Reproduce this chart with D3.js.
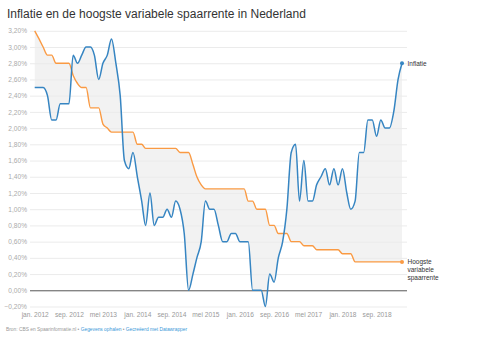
<!DOCTYPE html>
<html><head><meta charset="utf-8">
<script src="https://cdn.jsdelivr.net/npm/d3@7/dist/d3.min.js"></script>
<style>
html,body{margin:0;padding:0;background:#fff;}
svg text{font-family:"Liberation Sans",Arial,Helvetica,sans-serif;}
</style></head>
<body><svg id="c" width="481" height="338"></svg>
<script>
const title = "Inflatie en de hoogste variabele spaarrente in Nederland";
const firstMonth = "2012-01";
const inflatie = [
 2.5,2.5,2.5,2.4,2.1,2.1,2.3,2.3,2.3,2.9,2.8,2.9,
 3.0,3.0,2.9,2.6,2.8,2.9,3.1,2.8,2.4,1.6,1.5,1.7,
 1.4,1.1,0.8,1.2,0.8,0.9,0.9,1.0,0.9,1.1,1.0,0.7,
 0.0,0.2,0.4,0.6,1.1,1.0,1.0,0.8,0.6,0.6,0.7,0.7,
 0.6,0.6,0.6,0.0,0.0,0.0,-0.2,0.2,0.1,0.4,0.6,1.0,
 1.7,1.8,1.1,1.6,1.1,1.1,1.3,1.4,1.5,1.3,1.5,1.3,
 1.5,1.2,1.0,1.1,1.7,1.7,2.1,2.1,1.9,2.1,2.0,2.0,
 2.2,2.6,2.8];
const spaarrente = [
 3.2,3.1,3.0,2.9,2.9,2.8,2.8,2.8,2.8,2.65,2.55,2.5,
 2.5,2.25,2.25,2.25,2.05,2.0,1.95,1.95,1.95,1.95,1.95,1.95,
 1.8,1.8,1.75,1.75,1.75,1.75,1.75,1.75,1.75,1.75,1.7,1.7,
 1.7,1.55,1.4,1.3,1.25,1.25,1.25,1.25,1.25,1.25,1.25,1.25,
 1.25,1.25,1.1,1.1,1.0,1.0,1.0,0.8,0.8,0.7,0.7,0.7,
 0.6,0.6,0.6,0.55,0.55,0.55,0.5,0.5,0.5,0.5,0.5,0.5,
 0.45,0.45,0.45,0.35,0.35,0.35,0.35,0.35,0.35,0.35,0.35,0.35,
 0.35,0.35,0.35];
const yTicks = [-0.2,0,0.2,0.4,0.6,0.8,1.0,1.2,1.4,1.6,1.8,2.0,2.2,2.4,2.6,2.8,3.0,3.2];
const xTickMonths = ["2012-01","2012-09","2013-05","2014-01","2014-09","2015-05","2016-01","2016-09","2017-05","2018-01","2018-09"];
const xTickLabels = ["jan. 2012","sep. 2012","mei 2013","jan. 2014","sep. 2014","mei 2015","jan. 2016","sep. 2016","mei 2017","jan. 2018","sep. 2018"];
const seriesLabels = {inflatie:["Inflatie"], spaarrente:["Hoogste","variabele","spaarrente"]};
const footerParts = [["Bron: CBS en Spaarinformatie.nl • ","#999"],["Gegevens ophalen","#3b98d8"],[" • ","#999"],["Gecreëerd met Datawrapper","#3b98d8"]];

const parseM = d3.timeParse("%Y-%m");
const start = parseM(firstMonth);
const months = inflatie.map((_, i) => d3.timeMonth.offset(start, i));
const data = months.map((d, i) => ({d, inf: inflatie[i], sp: spaarrente[i]}));

const svg = d3.select("#c");
const x = d3.scaleTime().domain([months[0], months[months.length-1]]).range([34.7, 402]);
const y = d3.scaleLinear().domain([-0.2, 3.2]).range([306.5, 30.8]);
const gridL = 30, gridR = 407;

svg.append("text").attr("x", 7).attr("y", 17.5).attr("font-size", 12).attr("fill", "#333").text(title);

// y axis + grid
const fmt = v => d3.format(".2f")(v).replace(".", ",").replace("-0,00","0,00") + "%";
const ya = svg.append("g").attr("transform", `translate(${gridL},0)`)
  .call(d3.axisRight(y).tickValues(yTicks).tickSize(gridR - gridL).tickFormat(fmt));
ya.select(".domain").remove();
ya.selectAll(".tick line").attr("stroke", d => d === 0 ? "#555" : "#ebebeb").attr("stroke-width", 1);
ya.selectAll(".tick text").attr("x", -3).attr("text-anchor", "end").attr("fill", "#aaa").attr("font-size", 6.6);
ya.selectAll(".tick").filter(d => d === 0).raise();

// area between
const area = d3.area().x(d => x(d.d)).y0(d => y(d.sp)).y1(d => y(d.inf)).curve(d3.curveMonotoneX);
svg.insert("path", "g").attr("d", area(data)).attr("fill", "#000").attr("fill-opacity", 0.05);
svg.select("g").raise();

// x axis
const xa = svg.append("g").attr("transform", "translate(0,309)")
  .call(d3.axisBottom(x).tickValues(xTickMonths.map(parseM)).tickSize(0).tickFormat((d, i) => xTickLabels[i]));
xa.select(".domain").remove();
xa.selectAll(".tick text").attr("fill", "#999").attr("font-size", 6.6).attr("dy", "0.71em");

const lineInf = d3.line().x(d => x(d.d)).y(d => y(d.inf)).curve(d3.curveMonotoneX);
const lineSp = d3.line().x(d => x(d.d)).y(d => y(d.sp)).curve(d3.curveMonotoneX);
const cInf = "#3685c2", cSp = "#fa9a43";
svg.append("path").attr("d", lineSp(data)).attr("fill", "none").attr("stroke", cSp).attr("stroke-width", 1.4);
svg.append("path").attr("d", lineInf(data)).attr("fill", "none").attr("stroke", cInf).attr("stroke-width", 1.5);
const last = data[data.length-1];
svg.append("circle").attr("cx", x(last.d)).attr("cy", y(last.inf)).attr("r", 2).attr("fill", cInf);
svg.append("circle").attr("cx", x(last.d)).attr("cy", y(last.sp)).attr("r", 2).attr("fill", cSp);

svg.append("text").attr("x", x(last.d) + 5.5).attr("y", y(last.inf)).attr("dy", "0.35em")
  .attr("font-size", 6.5).attr("fill", "#333").text(seriesLabels.inflatie[0]);
const t2 = svg.append("text").attr("x", x(last.d) + 5.5).attr("y", y(last.sp)).attr("dy", "0.35em")
  .attr("font-size", 6.5).attr("fill", "#333");
seriesLabels.spaarrente.forEach((s, i) => t2.append("tspan").attr("x", x(last.d) + 5.5).attr("dy", i ? 7.7 : "0.35em").text(s));

// footer
const ft = svg.append("text").attr("x", 6).attr("y", 331).attr("font-size", 4.85);
footerParts.forEach(p => ft.append("tspan").attr("fill", p[1]).text(p[0]));
</script></body></html>
